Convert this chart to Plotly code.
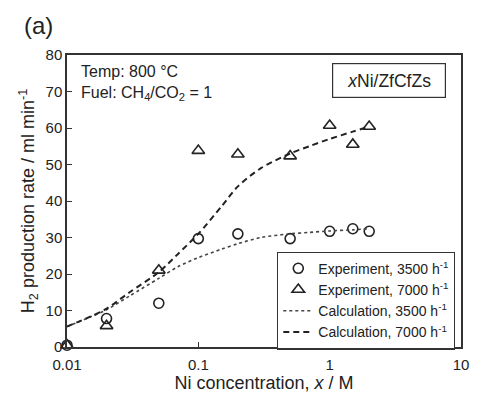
import plotly.graph_objects as go

# Experimental data
x_exp = [0.01, 0.02, 0.05, 0.1, 0.2, 0.5, 1.0, 1.5, 2.0]
y_exp_3500 = [0.5, 7.8, 12.0, 29.7, 31.0, 29.7, 31.7, 32.4, 31.7]
y_exp_7000 = [0.5, 5.8, 21.0, 53.8, 52.8, 52.3, 60.7, 55.5, 60.4]

# Calculation curves
x_calc = [0.01, 0.015, 0.02, 0.03, 0.05, 0.07, 0.1, 0.15, 0.2, 0.3, 0.5, 0.7, 1.0, 1.5, 2.0]
y_calc_3500 = [5.6, 8.2, 10.2, 14.0, 18.8, 22.0, 24.5, 26.8, 28.3, 30.0, 31.0, 31.4, 31.8, 32.1, 32.4]
y_calc_7000 = [5.6, 8.3, 10.5, 15.0, 20.5, 25.5, 31.0, 38.5, 44.0, 49.0, 53.0, 55.0, 57.0, 59.0, 60.4]

x_tickvals = [0.01, 0.1, 1, 10]
x_ticktext = ["0.01", "0.1", "1", "10"]
y_tickvals = [0, 10, 20, 30, 40, 50, 60, 70, 80]

FONT = "Liberation Sans, Arial, sans-serif"

fig = go.Figure()
fig.add_trace(go.Scatter(
    x=x_exp, y=y_exp_3500, mode="markers", name="Experiment, 3500 h<sup>-1</sup>",
    marker=dict(symbol="circle-open", size=10, color="#222", line=dict(width=1.6, color="#222")),
    cliponaxis=False))
fig.add_trace(go.Scatter(
    x=x_exp, y=y_exp_7000, mode="markers", name="Experiment, 7000 h<sup>-1</sup>",
    marker=dict(symbol="triangle-up-open", size=11, color="#222", line=dict(width=1.6, color="#222")),
    cliponaxis=False))
fig.add_trace(go.Scatter(
    x=x_calc, y=y_calc_3500, mode="lines", name="Calculation, 3500 h<sup>-1</sup>",
    line=dict(color="#444", width=1.6, dash="dot", shape="spline", smoothing=0.8)))
fig.add_trace(go.Scatter(
    x=x_calc, y=y_calc_7000, mode="lines", name="Calculation, 7000 h<sup>-1</sup>",
    line=dict(color="#222", width=2, dash="6px,4px", shape="spline", smoothing=0.8)))

fig.update_layout(
    width=481, height=399,
    margin=dict(l=67, r=13, t=55, b=50),
    paper_bgcolor="white", plot_bgcolor="white",
    font=dict(family=FONT, size=15, color="#222"),
    showlegend=True,
    legend=dict(
        x=0.985, y=0.327, xanchor="right", yanchor="top",
        bordercolor="#333", borderwidth=1.2, bgcolor="white",
        font=dict(size=14, family=FONT), tracegroupgap=0, itemwidth=30,
    ),
    xaxis=dict(
        type="log", range=[-2, 1], tickvals=x_tickvals, ticktext=x_ticktext,
        showgrid=False, zeroline=False, showline=True, linecolor="#333", linewidth=1.5,
        mirror=True, ticks="inside", ticklen=5, tickcolor="#333",
        tickfont=dict(size=15, family=FONT), ticklabelstandoff=3,
        title=dict(text="Ni concentration, <i>x</i> / M", font=dict(size=18, family=FONT), standoff=2),
    ),
    yaxis=dict(
        range=[0, 80], tickvals=y_tickvals,
        showgrid=False, zeroline=False, showline=True, linecolor="#333", linewidth=1.5,
        mirror=True, ticks="inside", ticklen=5, tickcolor="#333",
        tickfont=dict(size=15, family=FONT),
        title=dict(text="H<sub>2</sub> production rate / ml min<sup>-1</sup>", font=dict(size=18, family=FONT), standoff=6),
    ),
    annotations=[
        dict(text="(a)", xref="paper", yref="paper", x=-0.072, y=1.102,
             xanchor="center", yanchor="middle",
             showarrow=False, font=dict(size=24, family=FONT)),
        dict(text="Temp: 800 \u00b0C<br>Fuel: CH<sub>4</sub>/CO<sub>2</sub> = 1", xref="paper", yref="paper",
             x=0.03, y=0.98, xanchor="left", yanchor="top", align="left", showarrow=False,
             font=dict(size=16, family=FONT)),
        dict(text="<i>x</i>Ni/ZfCfZs", xref="paper", yref="paper",
             x=0.817, y=0.912, xanchor="center", yanchor="middle",
             showarrow=False, bordercolor="#333", borderwidth=1.2,
             width=112, height=33, borderpad=0, bgcolor="white", font=dict(size=17.5, family=FONT)),
    ],
)

fig.write_html("out.html")
